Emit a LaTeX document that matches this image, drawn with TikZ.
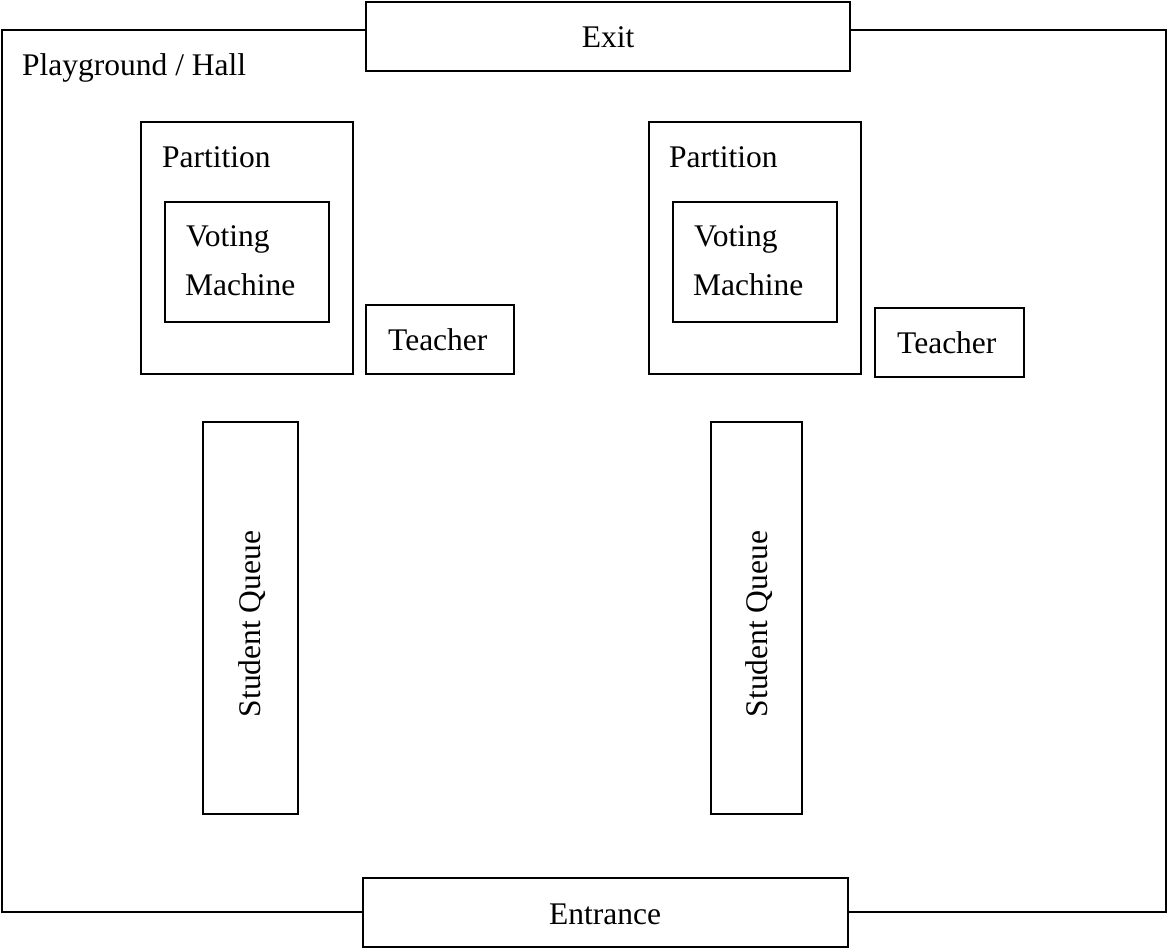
\documentclass[tikz,border=0pt]{standalone}
\usepackage{fontspec}
\setmainfont{Liberation Serif}
\usetikzlibrary{fit}
\begin{document}
\begin{tikzpicture}[x=1pt,y=-1pt,
  box/.style={draw, line width=1.4pt, fill=white, inner sep=0pt, outer sep=0pt, rectangle},
  lbl/.style={inner sep=0pt, anchor=base west, font=\fontsize{31.5}{38}\selectfont},
  clbl/.style={lbl, anchor=base}]
\useasboundingbox (0,0) rectangle (1168,949);
% hall
\node[box, fit={(2,30) (1166,912)}] (hall) {};
\node[lbl] (hallt) at (22,76) {Playground / Hall};
% exit and entrance
\node[box, fit={(366,2) (850,71)}] (exit) {};
\node[clbl] (exitt) at (608,48) {Exit};
\node[box, fit={(363,878) (848,947)}] (entr) {};
\node[clbl] (entrt) at (605,924) {Entrance};
% left station
\node[box, fit={(141,122) (353,374)}] (partL) {};
\node[lbl] (partLt) at (162,168) {Partition};
\node[box, fit={(165,202) (329,322)}] (vmL) {};
\node[lbl] (vmLt1) at (186,247) {Voting};
\node[lbl] (vmLt2) at (185,296) {Machine};
\node[box, fit={(366,305) (514,374)}] (teachL) {};
\node[lbl] (teachLt) at (388,351) {Teacher};
\node[box, fit={(203,422) (298,814)}] (queueL) {};
\node[clbl, rotate=90] (queueLt) at (260,624) {Student Queue};
% right station
\node[box, fit={(649,122) (861,374)}] (partR) {};
\node[lbl] (partRt) at (669,168) {Partition};
\node[box, fit={(673,202) (837,322)}] (vmR) {};
\node[lbl] (vmRt1) at (694,247) {Voting};
\node[lbl] (vmRt2) at (693,296) {Machine};
\node[box, fit={(875,308) (1024,377)}] (teachR) {};
\node[lbl] (teachRt) at (897,354) {Teacher};
\node[box, fit={(711,422) (802,814)}] (queueR) {};
\node[clbl, rotate=90] (queueRt) at (767,624) {Student Queue};
\end{tikzpicture}
\end{document}
